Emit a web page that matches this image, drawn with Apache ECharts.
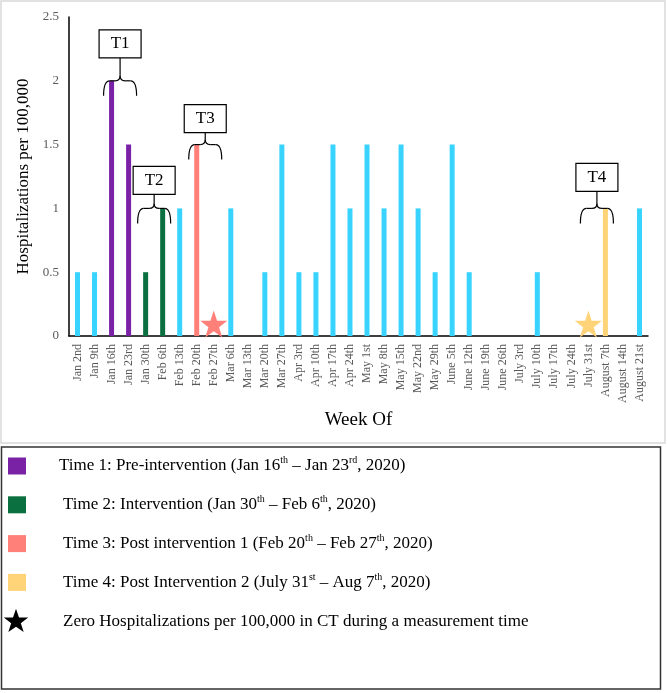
<!DOCTYPE html>
<html>
<head>
<meta charset="utf-8">
<script src="https://cdn.jsdelivr.net/npm/echarts@6/dist/echarts.min.js"></script>
<style>
  html, body { margin: 0; padding: 0; background: #fff; }
  #main { width: 667px; height: 693px; }
</style>
</head>
<body>
<div id="main"></div>
<script>
var myChart = echarts.init(document.getElementById('main'));

var weeks = ['Jan 2nd', 'Jan 9th', 'Jan 16th', 'Jan 23rd', 'Jan 30th', 'Feb 6th', 'Feb 13th', 'Feb 20th',
  'Feb 27th', 'Mar 6th', 'Mar 13th', 'Mar 20th', 'Mar 27th', 'Apr 3rd', 'Apr 10th', 'Apr 17th', 'Apr 24th',
  'May 1st', 'May 8th', 'May 15th', 'May 22nd', 'May 29th', 'June 5th', 'June 12th', 'June 19th', 'June 26th',
  'July 3rd', 'July 10th', 'July 17th', 'July 24th', 'July 31st', 'August 7th', 'August 14th', 'August 21st'];
var hosp = [0.5, 0.5, 2, 1.5, 0.5, 1, 1, 1.5, 0, 1, 0, 0.5, 1.5, 0.5, 0.5, 1.5, 1,
  1.5, 1, 1.5, 1, 0.5, 1.5, 0.5, 0, 0, 0, 0.5, 0, 0, 0, 1, 0, 1];
// which measurement time each week belongs to (0 = none)
var period = [0, 0, 1, 1, 2, 2, 0, 3, 3, 0, 0, 0, 0, 0, 0, 0, 0,
  0, 0, 0, 0, 0, 0, 0, 0, 0, 0, 0, 0, 0, 4, 4, 0, 0];
// weeks with zero hospitalizations during a measurement time
var zeroWeeks = ['Feb 27th', 'July 31st'];
var yTicks = [0, 0.5, 1, 1.5, 2, 2.5];
var annLabels = ['T1', 'T2', 'T3', 'T4'];

var colors = ['#38d4ff', '#7a22a6', '#0a7040', '#ff7f79', '#ffd479'];
var serif = '"Liberation Serif", "DejaVu Serif", serif';
var starPts = [[50, 2], [61.5, 36], [97, 36], [68.5, 57.5], [79.5, 92], [50, 71], [20.5, 92], [31.5, 57.5], [3, 36], [38.5, 36]];
var star = 'path://M' + starPts.map(function (p) { return p.join(','); }).join(' L') + ' Z';

var legendLines = [
  '{n|Time 1: Pre-intervention (Jan 16}{s|th}{n| – Jan 23}{s|rd}{n|, 2020)}',
  '{n|Time 2: Intervention (Jan 30}{s|th}{n| – Feb 6}{s|th}{n|, 2020)}',
  '{n|Time 3: Post intervention 1 (Feb 20}{s|th}{n| – Feb 27}{s|th}{n|, 2020)}',
  '{n|Time 4: Post Intervention 2 (July 31}{s|st}{n| – Aug 7}{s|th}{n|, 2020)}',
  '{n|Zero Hospitalizations per 100,000 in CT during a measurement time}'
];

option = {
  backgroundColor: '#fff',
  animation: false,
  grid: { left: 69, right: 19, top: 17, bottom: 357 },
  xAxis: {
    type: 'category',
    data: weeks,
    name: 'Week Of',
    nameLocation: 'middle',
    nameGap: 75,
    nameTextStyle: { fontFamily: serif, fontSize: 19, color: '#000' },
    axisLine: { lineStyle: { color: '#000', width: 1.5 } },
    axisTick: { show: false },
    axisLabel: { rotate: 90, interval: 0, margin: 8, fontFamily: serif, fontSize: 12, color: '#595959' }
  },
  yAxis: {
    type: 'value',
    min: yTicks[0],
    max: yTicks[yTicks.length - 1],
    interval: 0.5,
    name: 'Hospitalizations per 100,000',
    nameLocation: 'middle',
    nameGap: 28,
    nameTextStyle: { fontFamily: serif, fontSize: 17, color: '#000' },
    axisLine: { show: true, lineStyle: { color: '#000', width: 1.5 } },
    axisTick: { show: false },
    splitLine: { show: false },
    axisLabel: { fontFamily: serif, fontSize: 13, color: '#595959', margin: 10 }
  },
  series: [
    {
      type: 'bar',
      barWidth: 5,
      data: hosp.map(function (v, i) {
        return { value: v, itemStyle: { color: colors[period[i]] } };
      })
    },
    {
      type: 'scatter',
      symbol: star,
      symbolSize: 27,
      symbolOffset: [0, -12],
      z: 5,
      data: zeroWeeks.map(function (w) {
        var i = weeks.indexOf(w);
        return { value: [w, 0], itemStyle: { color: colors[period[i]], opacity: 1 } };
      })
    }
  ]
};
myChart.setOption(option);

// annotation boxes with braces over each measurement time
var gaps = [23, 14, 12, 17];
var line = { fill: 'none', stroke: '#000', lineWidth: 1.2 };
var graphics = [
  { type: 'rect', shape: { x: 1, y: 1, width: 664, height: 442 }, style: { fill: 'none', stroke: '#d9d9d9', lineWidth: 1.5 }, silent: true },
  { type: 'rect', shape: { x: 1.5, y: 447, width: 659, height: 242 }, style: { fill: 'none', stroke: '#333', lineWidth: 1.5 }, silent: true }
];
function curve(x1, y1, cx, cy, x2, y2) {
  return { type: 'bezierCurve', shape: { x1: x1, y1: y1, cpx1: cx, cpy1: cy, x2: x2, y2: y2 }, style: line, z: 10 };
}
function seg(x1, y1, x2, y2) {
  return { type: 'line', shape: { x1: x1, y1: y1, x2: x2, y2: y2 }, style: line, z: 10 };
}
annLabels.forEach(function (lab, k) {
  var idx = [];
  period.forEach(function (p, i) { if (p === k + 1) idx.push(i); });
  var top = Math.max.apply(null, idx.map(function (i) { return hosp[i]; }));
  var x1 = myChart.convertToPixel({ xAxisIndex: 0 }, idx[0]);
  var x2 = myChart.convertToPixel({ xAxisIndex: 0 }, idx[idx.length - 1]);
  var cx = (x1 + x2) / 2;
  var y = myChart.convertToPixel({ yAxisIndex: 0 }, top);
  var w = 16.5, boxBottom = y - gaps[k];
  graphics.push(curve(cx - w, y + 15, cx - w, y, cx - w + 6, y));
  graphics.push(seg(cx - w + 6, y, cx - 5, y));
  graphics.push(curve(cx - 5, y, cx, y, cx, y - 5));
  graphics.push(curve(cx + 5, y, cx, y, cx, y - 5));
  graphics.push(seg(cx + 5, y, cx + w - 6, y));
  graphics.push(curve(cx + w - 6, y, cx + w, y, cx + w, y + 15));
  graphics.push(seg(cx, y - 5, cx, boxBottom));
  graphics.push({ type: 'rect', shape: { x: cx - 21, y: boxBottom - 28, width: 42, height: 28 }, style: { fill: '#fff', stroke: '#000', lineWidth: 1.2 }, z: 10 });
  graphics.push({ type: 'text', x: cx, y: boxBottom - 14, style: { text: lab, fontFamily: serif, fontSize: 17, fill: '#000', align: 'center', verticalAlign: 'middle' }, z: 11 });
});

// legend
legendLines.forEach(function (txt, k) {
  var cy = 466 + k * 38.8;
  if (k < 4) {
    graphics.push({ type: 'rect', shape: { x: 8, y: cy - 8.5, width: 18, height: 17 }, style: { fill: colors[k + 1] } });
  } else {
    graphics.push({
      type: 'polygon',
      shape: { points: starPts.map(function (p) { return [3 + p[0] * 0.26, cy - 13 + p[1] * 0.26]; }) },
      style: { fill: '#000' }
    });
  }
  graphics.push({
    type: 'text', x: k === 0 ? 59 : 63, y: cy,
    style: {
      text: txt, verticalAlign: 'middle', fill: '#000',
      rich: {
        n: { fontFamily: serif, fontSize: 17, lineHeight: 21, fill: '#000' },
        s: { fontFamily: serif, fontSize: 10, lineHeight: 21, verticalAlign: 'top', fill: '#000' }
      }
    }
  });
});
myChart.setOption({ graphic: graphics });
</script>
</body>
</html>
